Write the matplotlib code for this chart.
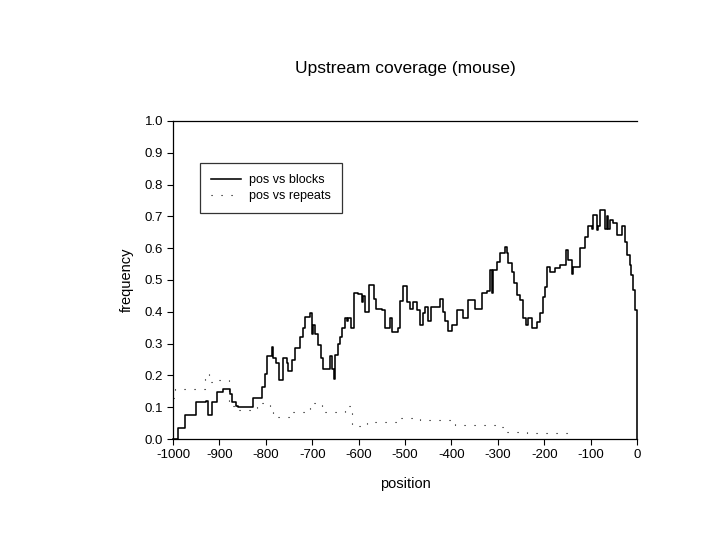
import numpy as np
import matplotlib
matplotlib.use("Agg")
import matplotlib.pyplot as plt

plt.rcParams['font.family'] = ['Liberation Sans', 'DejaVu Sans']
plt.rcParams['axes.unicode_minus'] = False

# pos vs blocks: step starts (position) and frequency for each step
block_pos = [-1000, -989, -974, -950, -929, -925, -916, -905, -892, -877,
             -873, -864, -860, -828, -809, -802, -797, -787, -784, -778,
             -771, -764, -762, -755, -752, -744, -737, -726, -719, -716,
             -705, -701, -698, -694, -688, -680, -676, -662, -658, -653,
             -651, -644, -640, -636, -629, -626, -622, -617, -610, -601,
             -593, -590, -586, -578, -566, -563, -550, -543, -532, -529,
             -515, -511, -504, -496, -489, -482, -475, -468, -462, -457,
             -450, -443, -425, -418, -414, -407, -399, -389, -374, -364,
             -349, -335, -324, -317, -313, -310, -302, -295, -285, -281,
             -277, -270, -265, -259, -252, -245, -239, -234, -227, -216,
             -209, -203, -198, -193, -188, -177, -166, -153, -148, -141,
             -137, -123, -112, -105, -98, -94, -87, -84, -80, -69,
             -65, -62, -58, -51, -44, -33, -26, -22, -15, -12,
             -8, -4, 0]
block_freq = [0.0, 0.035, 0.075, 0.115, 0.12, 0.075, 0.115, 0.148, 0.157, 0.14,
              0.115, 0.105, 0.10, 0.13, 0.165, 0.205, 0.26, 0.29, 0.255, 0.24,
              0.185, 0.19, 0.255, 0.24, 0.215, 0.25, 0.285, 0.32, 0.35, 0.385,
              0.395, 0.33, 0.36, 0.33, 0.295, 0.255, 0.22, 0.26, 0.22, 0.19,
              0.265, 0.30, 0.32, 0.35, 0.38, 0.37, 0.38, 0.35, 0.46, 0.455,
              0.43, 0.45, 0.40, 0.485, 0.44, 0.41, 0.405, 0.35, 0.38, 0.335,
              0.35, 0.435, 0.48, 0.43, 0.41, 0.43, 0.405, 0.36, 0.395, 0.415,
              0.37, 0.415, 0.44, 0.40, 0.37, 0.34, 0.36, 0.405, 0.38, 0.437,
              0.41, 0.46, 0.465, 0.53, 0.46, 0.53, 0.557, 0.585, 0.605, 0.585,
              0.553, 0.525, 0.49, 0.453, 0.437, 0.38, 0.358, 0.38, 0.349, 0.368,
              0.395, 0.447, 0.478, 0.54, 0.525, 0.537, 0.547, 0.594, 0.563, 0.52,
              0.54, 0.60, 0.635, 0.67, 0.66, 0.705, 0.657, 0.67, 0.72, 0.66,
              0.70, 0.66, 0.69, 0.68, 0.64, 0.67, 0.62, 0.58, 0.547, 0.515,
              0.47, 0.405, 0.0]

# pos vs repeats
repeat_pos = [-1000, -995, -930, -922, -905, -880, -873, -860, -819, -791,
              -784, -754, -741, -705, -679, -629, -614, -582, -560, -511,
              -468, -392, -353, -302, -280, -237, -145]
repeat_freq = [0.13, 0.157, 0.205, 0.18, 0.185, 0.11, 0.105, 0.09, 0.113, 0.09,
               0.07, 0.07, 0.085, 0.113, 0.085, 0.105, 0.04, 0.055, 0.055, 0.065,
               0.06, 0.044, 0.044, 0.038, 0.022, 0.019, 0.019]

fig = plt.figure(figsize=(7.2, 5.4), dpi=100)
ax = fig.add_axes([0.2403, 0.187, 0.6444, 0.589])

ax.step(block_pos, block_freq, where='post', color='black', lw=1.15,
        label='pos vs blocks', clip_on=False)
ax.step(repeat_pos, repeat_freq, where='post', color='black', lw=0.8,
        linestyle=(0, (1, 8)), label='pos vs repeats')

ax.set_xlim(-1000, 0)
ax.set_ylim(0, 1.0)
ax.set_xticks(np.arange(-1000, 1, 100))
ax.set_yticks(np.arange(0, 1.01, 0.1))
ax.set_yticklabels(['%.1f' % v for v in np.arange(0, 1.01, 0.1)])
ax.tick_params(direction='out', length=4, width=0.8, labelsize=9.5, pad=3)
ax.spines['right'].set_visible(False)
for s in ['left', 'bottom', 'top']:
    ax.spines[s].set_linewidth(0.9)

ax.set_xlabel('position', fontsize=10.5, labelpad=12)
ax.set_ylabel('frequency', fontsize=10.5, labelpad=8)
fig.text(0.5625, 0.874, 'Upstream coverage (mouse)', fontsize=12.5,
         ha='center', va='center')

leg = ax.legend(loc='upper left', bbox_to_anchor=(0.058, 0.868),
                borderaxespad=0, fontsize=9, frameon=True, fancybox=False,
                edgecolor='black', handlelength=2.4, handletextpad=0.6,
                borderpad=0.9, labelspacing=0.3)
leg.get_frame().set_linewidth(0.9)

fig.savefig('out.png', dpi=100)
